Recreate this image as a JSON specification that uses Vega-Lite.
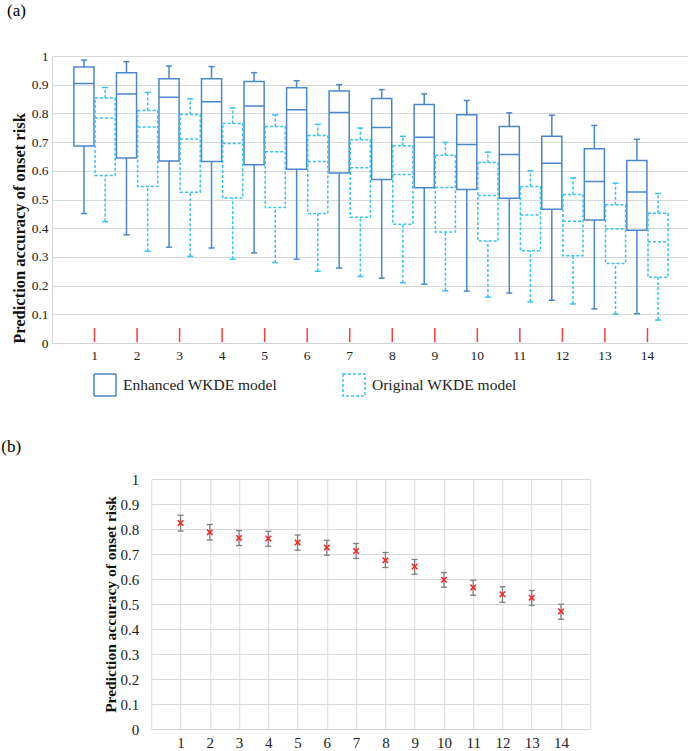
{
  "$schema": "https://vega.github.io/schema/vega-lite/v6.json",
  "padding": {"left": 0, "top": 2, "right": 0, "bottom": 0},
  "spacing": 75,
  "center": true,
  "config": {
    "font": "Liberation Serif",
    "view": {"stroke": null},
    "title": {"font": "Liberation Serif", "fontSize": 17, "fontWeight": "normal", "color": "#000", "anchor": "start", "frame": "group"},
    "axis": {"labelFont": "Liberation Serif", "labelColor": "#222", "titleFont": "Liberation Serif", "titleColor": "#111", "ticks": false, "gridColor": "#d9d9d9", "domainColor": "#d4d4d4", "labelOverlap": false},
    "legend": {"labelFont": "Liberation Serif"}
  },
  "datasets": {
    "boxes": [
      {"cat": 1, "model": "Enhanced WKDE model", "min": 0.451, "q1": 0.686, "median": 0.904, "q3": 0.962, "max": 0.986},
      {"cat": 2, "model": "Enhanced WKDE model", "min": 0.377, "q1": 0.645, "median": 0.868, "q3": 0.942, "max": 0.980},
      {"cat": 3, "model": "Enhanced WKDE model", "min": 0.334, "q1": 0.634, "median": 0.856, "q3": 0.921, "max": 0.965},
      {"cat": 4, "model": "Enhanced WKDE model", "min": 0.331, "q1": 0.632, "median": 0.841, "q3": 0.921, "max": 0.963},
      {"cat": 5, "model": "Enhanced WKDE model", "min": 0.314, "q1": 0.621, "median": 0.826, "q3": 0.911, "max": 0.942},
      {"cat": 6, "model": "Enhanced WKDE model", "min": 0.292, "q1": 0.605, "median": 0.813, "q3": 0.889, "max": 0.914},
      {"cat": 7, "model": "Enhanced WKDE model", "min": 0.261, "q1": 0.592, "median": 0.803, "q3": 0.878, "max": 0.900},
      {"cat": 8, "model": "Enhanced WKDE model", "min": 0.226, "q1": 0.570, "median": 0.751, "q3": 0.852, "max": 0.883},
      {"cat": 9, "model": "Enhanced WKDE model", "min": 0.205, "q1": 0.541, "median": 0.717, "q3": 0.831, "max": 0.868},
      {"cat": 10, "model": "Enhanced WKDE model", "min": 0.181, "q1": 0.535, "median": 0.692, "q3": 0.795, "max": 0.845},
      {"cat": 11, "model": "Enhanced WKDE model", "min": 0.174, "q1": 0.504, "median": 0.657, "q3": 0.754, "max": 0.802},
      {"cat": 12, "model": "Enhanced WKDE model", "min": 0.149, "q1": 0.466, "median": 0.626, "q3": 0.720, "max": 0.794},
      {"cat": 13, "model": "Enhanced WKDE model", "min": 0.119, "q1": 0.429, "median": 0.563, "q3": 0.677, "max": 0.758},
      {"cat": 14, "model": "Enhanced WKDE model", "min": 0.102, "q1": 0.393, "median": 0.526, "q3": 0.636, "max": 0.710},
      {"cat": 1, "model": "Original WKDE model", "min": 0.423, "q1": 0.584, "median": 0.784, "q3": 0.854, "max": 0.890},
      {"cat": 2, "model": "Original WKDE model", "min": 0.320, "q1": 0.545, "median": 0.753, "q3": 0.810, "max": 0.873},
      {"cat": 3, "model": "Original WKDE model", "min": 0.302, "q1": 0.525, "median": 0.711, "q3": 0.796, "max": 0.851},
      {"cat": 4, "model": "Original WKDE model", "min": 0.292, "q1": 0.505, "median": 0.695, "q3": 0.765, "max": 0.819},
      {"cat": 5, "model": "Original WKDE model", "min": 0.280, "q1": 0.472, "median": 0.666, "q3": 0.754, "max": 0.795},
      {"cat": 6, "model": "Original WKDE model", "min": 0.250, "q1": 0.451, "median": 0.632, "q3": 0.723, "max": 0.762},
      {"cat": 7, "model": "Original WKDE model", "min": 0.232, "q1": 0.438, "median": 0.611, "q3": 0.708, "max": 0.749},
      {"cat": 8, "model": "Original WKDE model", "min": 0.210, "q1": 0.414, "median": 0.587, "q3": 0.687, "max": 0.720},
      {"cat": 9, "model": "Original WKDE model", "min": 0.182, "q1": 0.387, "median": 0.542, "q3": 0.654, "max": 0.699},
      {"cat": 10, "model": "Original WKDE model", "min": 0.160, "q1": 0.355, "median": 0.514, "q3": 0.629, "max": 0.665},
      {"cat": 11, "model": "Original WKDE model", "min": 0.143, "q1": 0.321, "median": 0.446, "q3": 0.545, "max": 0.600},
      {"cat": 12, "model": "Original WKDE model", "min": 0.136, "q1": 0.304, "median": 0.424, "q3": 0.517, "max": 0.575},
      {"cat": 13, "model": "Original WKDE model", "min": 0.101, "q1": 0.277, "median": 0.397, "q3": 0.482, "max": 0.557},
      {"cat": 14, "model": "Original WKDE model", "min": 0.080, "q1": 0.229, "median": 0.353, "q3": 0.452, "max": 0.521}
    ],
    "means": [
      {"cat": 1, "mean": 0.824, "lo": 0.792, "hi": 0.855},
      {"cat": 2, "mean": 0.787, "lo": 0.756, "hi": 0.818},
      {"cat": 3, "mean": 0.764, "lo": 0.734, "hi": 0.794},
      {"cat": 4, "mean": 0.762, "lo": 0.731, "hi": 0.791},
      {"cat": 5, "mean": 0.746, "lo": 0.715, "hi": 0.776},
      {"cat": 6, "mean": 0.726, "lo": 0.695, "hi": 0.755},
      {"cat": 7, "mean": 0.712, "lo": 0.682, "hi": 0.742},
      {"cat": 8, "mean": 0.675, "lo": 0.646, "hi": 0.706},
      {"cat": 9, "mean": 0.650, "lo": 0.619, "hi": 0.678},
      {"cat": 10, "mean": 0.597, "lo": 0.567, "hi": 0.626},
      {"cat": 11, "mean": 0.566, "lo": 0.535, "hi": 0.595},
      {"cat": 12, "mean": 0.539, "lo": 0.507, "hi": 0.569},
      {"cat": 13, "mean": 0.525, "lo": 0.494, "hi": 0.554},
      {"cat": 14, "mean": 0.470, "lo": 0.439, "hi": 0.499}
    ]
  },
  "vconcat": [
    {
      "title": {"text": "(a)", "dx": -45, "offset": 29},
      "width": 638,
      "height": 287,
      "data": {"name": "boxes"},
      "encoding": {
        "x": {"field": "cat", "type": "ordinal", "scale": {"paddingInner": 0.03, "paddingOuter": 0.515},
              "axis": {"title": null, "labelAngle": 0, "labelFontSize": 13.5, "labelPadding": 5, "grid": false, "domainColor": "#d4d4d4"}},
        "y": {"type": "quantitative", "scale": {"domain": [0, 1], "nice": false},
              "axis": {"title": "Prediction accuracy of onset risk", "titleFontSize": 16.5, "titleFontWeight": "bold", "titleX": -25, "titleY": 172,
                       "values": [0, 0.1, 0.2, 0.3, 0.4, 0.5, 0.6, 0.7, 0.8, 0.9, 1], "format": "~g", "labelFontSize": 13.5, "labelPadding": 4,
                       "labelOverlap": false, "grid": true, "domain": true}}
      },
      "layer": [
        {
          "transform": [{"filter": "datum.model == 'Enhanced WKDE model'"}],
          "mark": {"type": "rule", "color": "#ff3b3b", "strokeWidth": 1.5},
          "encoding": {
            "y": {"datum": 0.003, "type": "quantitative"},
            "y2": {"datum": 0.052}
          }
        },
        {
          "mark": {"type": "rule", "strokeWidth": 1.5},
          "encoding": {
            "xOffset": {"field": "model", "scale": {"paddingInner": 0.05}},
            "y": {"field": "min", "type": "quantitative"},
            "y2": {"field": "q1"},
            "stroke": {"field": "model", "type": "nominal", "scale": {"domain": ["Enhanced WKDE model", "Original WKDE model"], "range": ["#4a87cc", "#38c2f2"]}},
            "strokeDash": {"field": "model", "type": "nominal", "scale": {"domain": ["Enhanced WKDE model", "Original WKDE model"], "range": [[1, 0], [3, 2]]}}
          }
        },
        {
          "mark": {"type": "rule", "strokeWidth": 1.5},
          "encoding": {
            "xOffset": {"field": "model"},
            "y": {"field": "q3", "type": "quantitative"},
            "y2": {"field": "max"},
            "stroke": {"field": "model", "type": "nominal"},
            "strokeDash": {"field": "model", "type": "nominal"}
          }
        },
        {
          "mark": {"type": "bar", "filled": false, "strokeWidth": 1.5},
          "encoding": {
            "xOffset": {"field": "model"},
            "y": {"field": "q1", "type": "quantitative"},
            "y2": {"field": "q3"},
            "stroke": {"field": "model", "type": "nominal",
                       "legend": {"orient": "none", "legendX": 41, "legendY": 317, "direction": "horizontal", "title": null,
                                  "symbolType": "square", "symbolSize": 484, "symbolStrokeWidth": 1.5, "symbolFillColor": "transparent",
                                  "labelFontSize": 15.5, "labelFont": "Liberation Serif", "labelColor": "#222", "labelOffset": 6, "columnPadding": 62}},
            "strokeDash": {"field": "model", "type": "nominal"}
          }
        },
        {
          "mark": {"type": "point", "shape": "M-1,0L1,0", "size": 400, "filled": false, "strokeWidth": 1.5, "opacity": 1},
          "encoding": {
            "xOffset": {"field": "model"},
            "y": {"field": "median", "type": "quantitative"},
            "stroke": {"field": "model", "type": "nominal"},
            "strokeDash": {"field": "model", "type": "nominal"}
          }
        },
        {
          "mark": {"type": "point", "shape": "M-1,0L1,0", "size": 36, "filled": false, "strokeWidth": 1.5, "opacity": 1},
          "encoding": {
            "xOffset": {"field": "model"},
            "y": {"field": "min", "type": "quantitative"},
            "stroke": {"field": "model", "type": "nominal"}
          }
        },
        {
          "mark": {"type": "point", "shape": "M-1,0L1,0", "size": 36, "filled": false, "strokeWidth": 1.5, "opacity": 1},
          "encoding": {
            "xOffset": {"field": "model"},
            "y": {"field": "max", "type": "quantitative"},
            "stroke": {"field": "model", "type": "nominal"}
          }
        }
      ]
    },
    {
      "title": {"text": "(b)", "dx": -150, "offset": 16},
      "width": 439,
      "height": 250,
      "view": {"stroke": "#d9d9d9"},
      "data": {"name": "means"},
      "encoding": {
        "x": {"field": "cat", "type": "ordinal", "scale": {"type": "point", "padding": 1},
              "axis": {"title": null, "labelAngle": 0, "labelFontSize": 15, "labelPadding": 6, "grid": true, "domainColor": "#d4d4d4"}},
        "y": {"type": "quantitative", "scale": {"domain": [0, 1], "nice": false},
              "axis": {"title": "Prediction accuracy of onset risk", "titleFontSize": 15.5, "titleFontWeight": "bold", "titleX": -32.5,
                       "values": [0, 0.1, 0.2, 0.3, 0.4, 0.5, 0.6, 0.7, 0.8, 0.9, 1], "format": "~g", "labelFontSize": 15, "labelPadding": 12.5,
                       "labelOverlap": false, "grid": true, "domain": false}}
      },
      "layer": [
        {
          "mark": {"type": "rule", "color": "#7f7f7f", "strokeWidth": 1.3},
          "encoding": {
            "y": {"field": "lo", "type": "quantitative"},
            "y2": {"field": "hi"}
          }
        },
        {
          "mark": {"type": "point", "shape": "M-1,0L1,0", "size": 36, "filled": false, "color": "#7f7f7f", "strokeWidth": 1.3, "opacity": 1},
          "encoding": {"y": {"field": "lo", "type": "quantitative"}}
        },
        {
          "mark": {"type": "point", "shape": "M-1,0L1,0", "size": 36, "filled": false, "color": "#7f7f7f", "strokeWidth": 1.3, "opacity": 1},
          "encoding": {"y": {"field": "hi", "type": "quantitative"}}
        },
        {
          "mark": {"type": "point", "shape": "M-1,-1L1,1M-1,1L1,-1", "size": 30, "filled": false, "color": "#ff2020", "strokeWidth": 1.6, "opacity": 1},
          "encoding": {"y": {"field": "mean", "type": "quantitative"}}
        }
      ]
    }
  ]
}
